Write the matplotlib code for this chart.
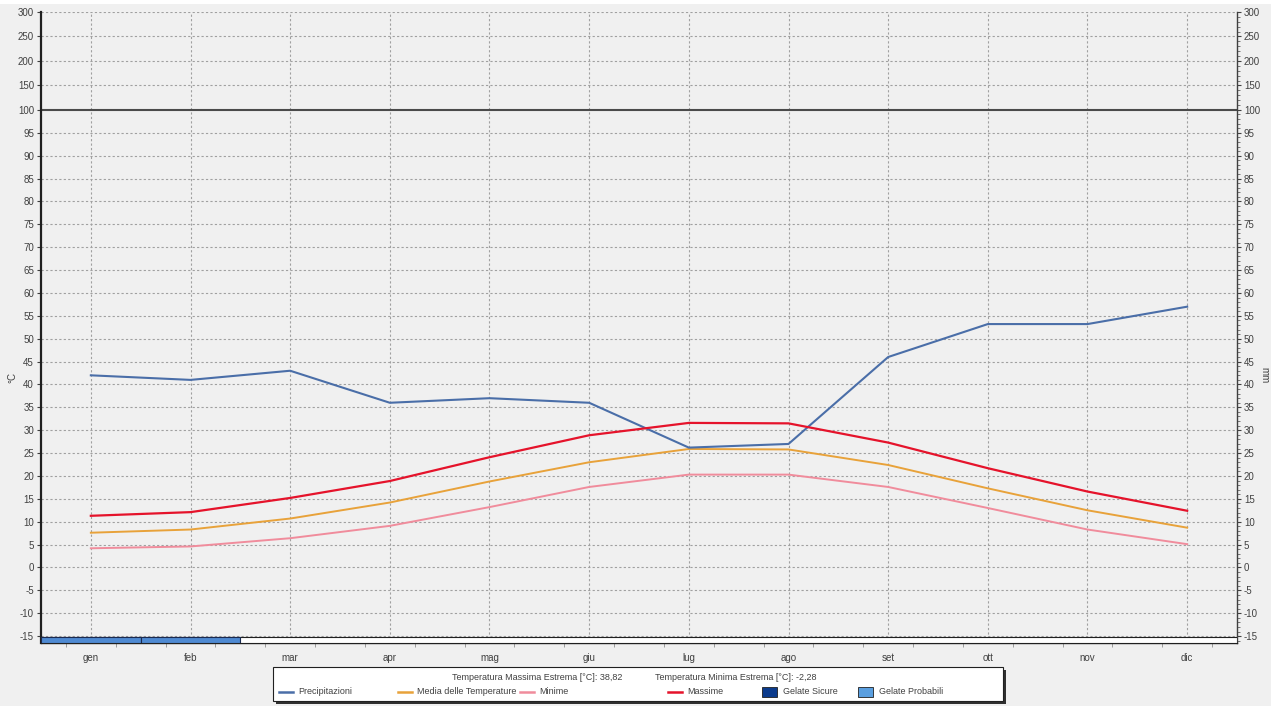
import numpy as np
import matplotlib
matplotlib.use("Agg")
import matplotlib.pyplot as plt
from matplotlib.patches import Rectangle
from matplotlib.lines import Line2D
from matplotlib.ticker import FixedLocator

plt.rcParams['font.family'] = ['Liberation Sans', 'DejaVu Sans']

# Monthly climate data
mesi = ["gen", "feb", "mar", "apr", "mag", "giu", "lug", "ago", "set", "ott", "nov", "dic"]
precipitazioni = [42, 41, 43, 36, 37, 36, 26.2, 27, 46, 53.2, 53.2, 57]
media_temperature = [7.6, 8.3, 10.7, 14.2, 18.8, 23.0, 25.9, 25.8, 22.4, 17.3, 12.5, 8.7]
minime = [4.2, 4.6, 6.4, 9.1, 13.2, 17.6, 20.3, 20.3, 17.6, 13.0, 8.3, 5.1]
massime = [11.3, 12.1, 15.2, 18.9, 24.1, 28.9, 31.6, 31.5, 27.3, 21.7, 16.6, 12.4]
gelate_sicure = [0, 0, 0, 0, 0, 0, 0, 0, 0, 0, 0, 0]
gelate_probabili = [1, 1, 0, 0, 0, 0, 0, 0, 0, 0, 0, 0]
t_max_estrema = "38,82"
t_min_estrema = "-2,28"

y_ticks_low = list(range(-15, 101, 5))
y_ticks_high = [150, 200, 250, 300]

C_PREC = "#4a6ea8"
C_MEDIA = "#e8a23a"
C_MIN = "#f08c9c"
C_MAX = "#e5132b"
C_SICURE = "#0b3b8c"
C_PROB = "#5a9fe0"
C_BAND = "#4f8ad2"
BG = "#f0f0f0"
TXT = "#404040"

# Broken vertical scale: full resolution up to 100, compressed above
K = 0.107


def fwd(v):
    v = np.asarray(v, dtype=float)
    return np.where(v <= 100, v, 100 + (v - 100) * K)


def inv(t):
    t = np.asarray(t, dtype=float)
    return np.where(t <= 100, t, 100 + (t - 100) / K)


W, H = 1271, 706
fig = plt.figure(figsize=(W / 100, H / 100), dpi=100, facecolor=BG)
fig.patches.append(Rectangle((0, 1 - 4 / H), 1, 4 / H, transform=fig.transFigure,
                             facecolor="white", edgecolor="none"))

ax = fig.add_axes([41 / W, 1 - 643 / H, (1237 - 41) / W, (643 - 12) / H], facecolor=BG)
ax.set_yscale("function", functions=(fwd, inv))
x = np.arange(len(mesi))
ax.set_xlim(-0.5, len(mesi) - 0.5)
ax.set_ylim(-16.5, 300)

# grid
ax.yaxis.set_major_locator(FixedLocator(y_ticks_low + y_ticks_high))
ax.set_yticklabels([str(v) for v in y_ticks_low + y_ticks_high])
minor_y = [v for v in range(-16, 100) if v % 5 != 0] + [v for v in range(110, 300, 10) if v % 50 != 0]
ax.yaxis.set_minor_locator(FixedLocator(minor_y))
ax.set_xticks(x)
ax.set_xticklabels(mesi)
ax.xaxis.set_minor_locator(FixedLocator([i + d for i in x for d in (-0.25, 0.25)]))

for v in y_ticks_low + y_ticks_high:
    if v == 100:
        continue
    ax.axhline(v, color="#a0a0a0", lw=0.8, ls=(0, (2, 2)), zorder=1)
for i in x:
    ax.axvline(i, color="#a0a0a0", lw=0.8, ls=(0, (2, 2)), zorder=1)
ax.axhline(100, color="#4a4a4a", lw=1.5, zorder=2)

# series
ax.plot(x, precipitazioni, color=C_PREC, lw=1.5, zorder=5)
ax.plot(x, media_temperature, color=C_MEDIA, lw=1.4, zorder=4)
ax.plot(x, minime, color=C_MIN, lw=1.4, zorder=4)
ax.plot(x, massime, color=C_MAX, lw=1.6, zorder=5)

# frost strip along the bottom
band_lo, band_hi = -16.5, -15.2
ax.add_patch(Rectangle((-0.5, band_lo), len(mesi), band_hi - band_lo, facecolor="white",
                       edgecolor="#202020", lw=0.8, zorder=6))
for i, (s, p) in enumerate(zip(gelate_sicure, gelate_probabili)):
    if s:
        ax.add_patch(Rectangle((i - 0.5, band_lo), 1, band_hi - band_lo, facecolor=C_SICURE,
                               edgecolor="#1a2a50", lw=0.8, zorder=7))
    elif p:
        ax.add_patch(Rectangle((i - 0.5, band_lo), 1, band_hi - band_lo, facecolor=C_BAND,
                               edgecolor="#1a2a50", lw=0.8, zorder=7))

ax.spines["top"].set_visible(False)
ax.spines["left"].set_color("#202020")
ax.spines["left"].set_linewidth(1.6)
ax.spines["right"].set_color("#404040")
ax.spines["right"].set_linewidth(1.0)
ax.spines["bottom"].set_color("#202020")
ax.spines["bottom"].set_linewidth(1.0)

ax.tick_params(axis="y", which="major", left=True, right=True, labelleft=True, labelright=True,
               length=3, width=0.8, color="#404040", labelsize=7, labelcolor=TXT, pad=2)
ax.tick_params(axis="y", which="minor", left=False, right=True, length=2, width=0.6, color="#606060")
ax.tick_params(axis="x", which="major", length=0, pad=7, labelsize=7, labelcolor=TXT)
ax.tick_params(axis="x", which="minor", length=3, width=0.6, color="#909090")

fig.text(12 / W, 1 - 377 / H, "°C", rotation=90, ha="center", va="center", fontsize=7, color=TXT)
fig.text(1264 / W, 1 - 375 / H, "mm", rotation=-90, ha="center", va="center", fontsize=7, color=TXT)

# legend box
def fx(px):
    return px / W


def fy(py):
    return 1 - py / H


lx0, lx1, ly0, ly1 = 273, 1003, 667, 701
fig.patches.append(Rectangle((fx(lx0 + 3), fy(ly1 + 3)), fx(lx1 - lx0), (ly1 - ly0) / H,
                             transform=fig.transFigure, facecolor="#303030", edgecolor="none", zorder=1))
fig.patches.append(Rectangle((fx(lx0), fy(ly1)), fx(lx1 - lx0), (ly1 - ly0) / H,
                             transform=fig.transFigure, facecolor="white", edgecolor="#202020",
                             lw=0.8, zorder=2))
fig.text(fx(452), fy(677), f"Temperatura Massima Estrema [°C]: {t_max_estrema}", fontsize=6.5,
         color=TXT, ha="left", va="center", zorder=3)
fig.text(fx(655), fy(677), f"Temperatura Minima Estrema [°C]: {t_min_estrema}", fontsize=6.5,
         color=TXT, ha="left", va="center", zorder=3)

row_y = 692
line_entries = [("Precipitazioni", C_PREC, 279), ("Media delle Temperature", C_MEDIA, 398),
                ("Minime", C_MIN, 520), ("Massime", C_MAX, 668)]
for label, col, hx in line_entries:
    fig.lines.append(Line2D([fx(hx), fx(hx + 14)], [fy(row_y), fy(row_y)], transform=fig.transFigure,
                            color=col, lw=1.8, zorder=3))
    fig.text(fx(hx + 19), fy(row_y), label, fontsize=6.5, color=TXT, ha="left", va="center", zorder=3)
patch_entries = [("Gelate Sicure", C_SICURE, 762), ("Gelate Probabili", C_PROB, 858)]
for label, col, hx in patch_entries:
    fig.patches.append(Rectangle((fx(hx), fy(row_y + 5)), fx(15), 10 / H, transform=fig.transFigure,
                                 facecolor=col, edgecolor="#202020", lw=0.6, zorder=3))
    fig.text(fx(hx + 21), fy(row_y), label, fontsize=6.5, color=TXT, ha="left", va="center", zorder=3)

fig.savefig("out.png", dpi=100, facecolor=BG)
